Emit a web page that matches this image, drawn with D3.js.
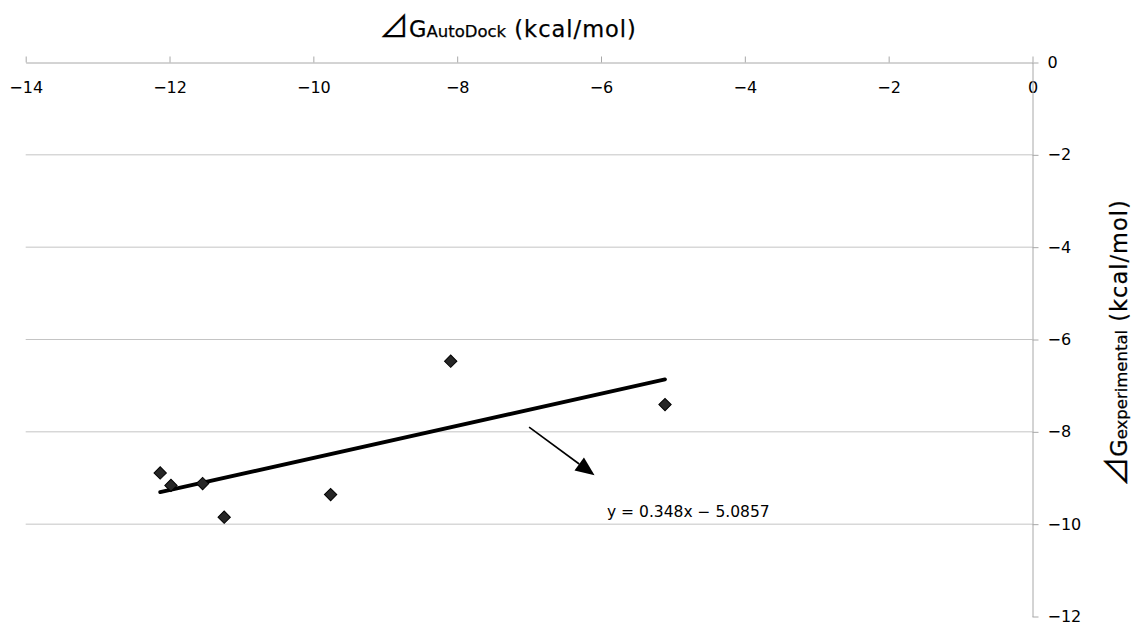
<!DOCTYPE html>
<html>
<head>
<meta charset="utf-8">
<script src="https://cdn.jsdelivr.net/npm/d3@7"></script>
<style>
  body { margin: 0; background: #fff; }
  text { font-family: "DejaVu Sans", sans-serif; fill: #000; }
</style>
</head>
<body>
<script>
// data
const dgAutoDock = [-12.13, -11.98, -11.54, -11.24, -9.76, -8.09, -5.11];
const dgExperimental = [-8.89, -9.16, -9.12, -9.85, -9.36, -6.47, -7.41];
const xTicks = [-14, -12, -10, -8, -6, -4, -2, 0];
const yTicks = [0, -2, -4, -6, -8, -10, -12];
const gridTicks = [-2, -4, -6, -8, -10];
const slope = 0.348, intercept = -5.0857;
const trendX = [-12.13, -5.11];
const arrowFrom = [-7.0, -7.9];
const arrowTo = [-6.09, -8.94];

const width = 1138, height = 627;
const svg = d3.select("body").append("svg")
    .attr("width", width)
    .attr("height", height);

const x = d3.scaleLinear().domain([-14, 0]).range([25.7, 1032.5]);
const y = d3.scaleLinear().domain([0, -12]).range([62.5, 616.5]);
const fmt = d => d < 0 ? "\u2212" + Math.abs(d) : "" + d;

// gridlines
svg.append("g").selectAll("line")
    .data(gridTicks)
    .enter()
    .append("line")
    .attr("x1", x(-14)).attr("x2", x(0))
    .attr("y1", d => y(d)).attr("y2", d => y(d))
    .attr("stroke", "#c4c4c4")
    .attr("stroke-width", 1);

// x axis at top, labels under the line
const xAxis = svg.append("g")
    .attr("transform", `translate(0,${y(0)})`)
    .call(d3.axisTop(x).tickValues(xTicks).tickSize(6).tickSizeOuter(0).tickFormat(fmt));
xAxis.selectAll("text")
    .attr("y", 30).attr("dy", null);

// y axis at x=0, labels on the right
const yAxis = svg.append("g")
    .attr("transform", `translate(${x(0)},0)`)
    .call(d3.axisRight(y).tickValues(yTicks).tickSize(6).tickSizeOuter(0).tickPadding(9).tickFormat(fmt));

[xAxis, yAxis].forEach(a => {
    a.select(".domain").attr("stroke", "#a8a8a8");
    a.selectAll(".tick line").attr("stroke", "#a8a8a8");
    a.selectAll("text")
        .attr("fill", "#000")
        .attr("font-size", 16)
        .attr("font-family", "'Liberation Sans', sans-serif");
});

// trend line
svg.append("line")
    .attr("x1", x(trendX[0])).attr("y1", y(slope * trendX[0] + intercept))
    .attr("x2", x(trendX[1])).attr("y2", y(slope * trendX[1] + intercept))
    .attr("stroke", "#000")
    .attr("stroke-width", 3.8)
    .attr("stroke-linecap", "round");

// points
svg.append("g").selectAll("path")
    .data(dgAutoDock)
    .enter()
    .append("path")
    .attr("d", d3.symbol(d3.symbolSquare).size(76))
    .attr("transform", (d, i) => `translate(${x(d)},${y(dgExperimental[i])}) rotate(45)`)
    .attr("fill", "#262626")
    .attr("stroke", "#000")
    .attr("stroke-width", 1);

// arrow annotation
const ax1 = x(arrowFrom[0]), ay1 = y(arrowFrom[1]);
const ax2 = x(arrowTo[0]), ay2 = y(arrowTo[1]);
const ang = Math.atan2(ay2 - ay1, ax2 - ax1);
const headLen = 19, headW = 8;
const bx = ax2 - headLen * Math.cos(ang), by = ay2 - headLen * Math.sin(ang);
svg.append("line")
    .attr("x1", ax1).attr("y1", ay1)
    .attr("x2", bx).attr("y2", by)
    .attr("stroke", "#000")
    .attr("stroke-width", 1.6);
svg.append("polygon")
    .attr("points", [
        [ax2, ay2],
        [bx + headW * Math.sin(ang), by - headW * Math.cos(ang)],
        [bx - headW * Math.sin(ang), by + headW * Math.cos(ang)]
    ].map(p => p.join(",")).join(" "))
    .attr("fill", "#000");

// equation
svg.append("text")
    .attr("x", 607)
    .attr("y", 517)
    .attr("font-size", 15.5)
    .text("y = 0.348x \u2212 5.0857");

// x title
const xt = svg.append("text")
    .attr("x", 379)
    .attr("y", 37)
    .attr("stroke", "#000").attr("stroke-width", 0.25);
xt.append("tspan").attr("font-size", 30).attr("font-family", "'Noto Sans CJK JP', sans-serif").text("\u22BF");
xt.append("tspan").attr("font-size", 22.5).text("G");
xt.append("tspan").attr("font-size", 16.5).text("AutoDock");
xt.append("tspan").attr("font-size", 22.5).attr("letter-spacing", 1).text(" (kcal/mol)");

// y title
const yt = svg.append("text")
    .attr("transform", "translate(1127,343) rotate(-90)")
    .attr("text-anchor", "middle")
    .attr("stroke", "#000").attr("stroke-width", 0.25);
yt.append("tspan").attr("font-size", 30).attr("font-family", "'Noto Sans CJK JP', sans-serif").text("\u22BF");
yt.append("tspan").attr("font-size", 22.5).text("G");
yt.append("tspan").attr("font-size", 16.5).text("experimental");
yt.append("tspan").attr("font-size", 22.5).attr("letter-spacing", 1).text(" (kcal/mol)");
</script>
</body>
</html>
